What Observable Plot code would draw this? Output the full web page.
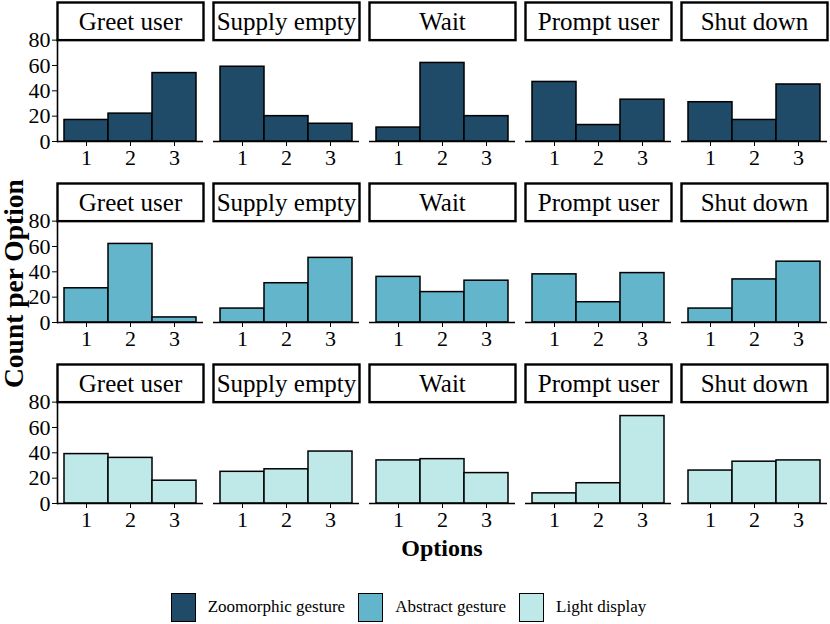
<!DOCTYPE html>
<html>
<head>
<meta charset="utf-8">
<script src="https://cdn.jsdelivr.net/npm/d3@7"></script>
<script src="https://cdn.jsdelivr.net/npm/@observablehq/plot@0.6"></script>
<style>
  html, body { margin: 0; padding: 0; background: #fff; }
  #wrap { position: relative; width: 830px; height: 624px; font-family: "Liberation Serif", "Times New Roman", serif; color: #000; overflow: hidden; }
  #chart { position: absolute; left: 0; top: 0; }
  #ytitle { position: absolute; left: 2px; top: 173px; height: 222px; width: 24px; display: flex; align-items: center; justify-content: center; writing-mode: vertical-rl; transform: rotate(180deg); font-weight: bold; font-size: 27.5px; line-height: 1; white-space: nowrap; }
  #xtitle { position: absolute; left: 442px; top: 548px; transform: translate(-50%, -50%); font-weight: bold; font-size: 24px; white-space: nowrap; }
  #legend { position: absolute; left: 0; width: 830px; top: 592px; height: 30px; display: flex; justify-content: center; align-items: center; font-size: 17px; box-sizing: border-box; }
  .key { width: 23px; height: 27px; border: 1.8px solid #000; margin-right: 12px; }
  .lab { margin-right: 13px; white-space: nowrap; }
</style>
</head>
<body>
<div id="wrap">
  <div id="chart"></div>
  <div id="ytitle">Count per Option</div>
  <div id="xtitle">Options</div>
  <div id="legend"></div>
</div>
<script>
// ---- data ----
const actions = ["Greet user", "Supply empty", "Wait", "Prompt user", "Shut down"];
const conditions = ["Zoomorphic gesture", "Abstract gesture", "Light display"];
const options = [1, 2, 3];
const zoomorphic = [[17, 22, 54], [59, 20, 14], [11, 62, 20], [47, 13, 33], [31, 17, 45]];
const abstractGesture = [[27, 62, 4], [11, 31, 51], [36, 24, 33], [38, 16, 39], [11, 34, 48]];
const lightDisplay = [[39, 36, 18], [25, 27, 41], [34, 35, 24], [8, 16, 69], [26, 33, 34]];
const colors = ["#1f4a68", "#62b5cb", "#bfe8e8"];
const yTicks = [0, 20, 40, 60, 80];

// ---- build table ----
const seriesByCondition = [zoomorphic, abstractGesture, lightDisplay];
const rows = [];
conditions.forEach((c, ci) => {
  actions.forEach((a, ai) => {
    options.forEach((o, oi) => {
      rows.push({condition: c, action: a, option: o, count: seriesByCondition[ci][ai][oi]});
    });
  });
});
const strips = [];
conditions.forEach(c => actions.forEach(a => strips.push({condition: c, action: a})));

// ---- layout ----
const H = 533, mt = 1.6, mb = H - 503;
const fyPad = 0.233;
const step = (H - mb - mt) / (3 - fyPad);
const cellH = step * (1 - fyPad);
const yMax = 109.7;
const stripH = cellH * (1 - 80 / yMax);

const chart = Plot.plot({
  width: 830,
  height: H,
  marginLeft: 57,
  marginRight: 2.5,
  marginTop: mt,
  marginBottom: mb,
  style: {fontFamily: "'Liberation Serif', 'Times New Roman', serif", fontSize: "22px", color: "#000", background: "#fff"},
  fx: {domain: actions, axis: null, paddingInner: 0.067, paddingOuter: 0},
  fy: {domain: conditions, axis: null, paddingInner: fyPad, paddingOuter: 0},
  x: {type: "band", domain: options, paddingInner: 0, paddingOuter: 0.15, label: null},
  y: {domain: [0, yMax], label: null},
  color: {domain: conditions, range: colors},
  marks: [
    Plot.barY(rows, {fx: "action", fy: "condition", x: "option", y: "count", fill: "condition", stroke: "#000", strokeWidth: 1.5, inset: 0}),
    Plot.ruleY([0], {stroke: "#000", strokeWidth: 1.6}),
    Plot.frame({anchor: "left", insetTop: stripH, stroke: "#000", strokeWidth: 1.6, facetAnchor: "left"}),
    Plot.axisY({ticks: yTicks, tickSize: 5, tickPadding: 2, fontSize: 22, stroke: "#000", facetAnchor: "left"}),
    Plot.axisX({tickSize: 5, tickPadding: 3, fontSize: 22, stroke: "#000", facetAnchor: null}),
    Plot.frame({insetBottom: cellH - stripH, fill: "#fff", stroke: "#000", strokeWidth: 2.4}),
    Plot.text(strips, {fx: "action", fy: "condition", text: "action", frameAnchor: "top", dy: stripH / 2 + 1, lineAnchor: "middle", fontSize: 25, fill: "#000"})
  ]
});
document.getElementById("chart").appendChild(chart);

// ---- legend ----
const legend = document.getElementById("legend");
conditions.forEach((c, i) => {
  const k = document.createElement("div");
  k.className = "key";
  k.style.background = colors[i];
  const l = document.createElement("span");
  l.className = "lab";
  l.textContent = c;
  legend.appendChild(k);
  legend.appendChild(l);
});
</script>
</body>
</html>
